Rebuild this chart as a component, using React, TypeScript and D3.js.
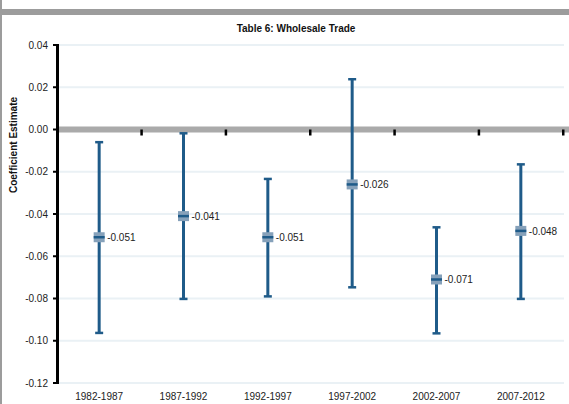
import React from "react";
import * as d3 from "d3";

// Period categories and coefficient estimates with their confidence bounds
const periods = ["1982-1987", "1987-1992", "1992-1997", "1997-2002", "2002-2007", "2007-2012"];
const estimates = [-0.051, -0.041, -0.051, -0.026, -0.071, -0.048];
const upperBounds = [-0.006, -0.0018, -0.0234, 0.0238, -0.0463, -0.0165];
const lowerBounds = [-0.0963, -0.0802, -0.079, -0.0747, -0.0965, -0.0802];
const yTicks = [0.04, 0.02, 0.0, -0.02, -0.04, -0.06, -0.08, -0.1, -0.12];

const W = 569;
const H = 404;
const FONT = "'Liberation Sans', Arial, sans-serif";
const BAR = "#1f5b89";

const fmt2 = (v: number) => d3.format(".2f")(v).replace("\u2212", "-");
const fmt3 = (v: number) => d3.format(".3f")(v).replace("\u2212", "-");

export default function App() {
  const y = d3.scaleLinear().domain([-0.12, 0.04]).range([383, 45]);
  const x = d3.scaleBand<string>().domain(periods).range([57, 563]);
  const axisX = 57.5;
  const y0 = y(0);

  return (
    <svg
      width={W}
      height={H}
      style={{ position: "absolute", left: 0, top: 0, background: "#fff" }}
      fontFamily={FONT}
    >
      {/* frame strips */}
      <rect x={0} y={9} width={W} height={6} fill="#9c9c9c" />
      <rect x={0} y={0} width={2} height={H} fill="#9c9c9c" />

      {/* title */}
      <text x={296} y={31.5} fontSize={10} fontWeight="bold" textAnchor="middle" fill="#111">
        Table 6: Wholesale Trade
      </text>

      {/* axis title */}
      <text
        transform={`translate(17,145) rotate(-90)`}
        fontSize={10}
        fontWeight="bold"
        textAnchor="middle"
        fill="#111"
      >
        Coefficient Estimate
      </text>

      {/* gridlines */}
      {yTicks
        .filter((t) => t !== 0)
        .map((t) => (
          <line key={`g${t}`} x1={59} x2={564} y1={y(t)} y2={y(t)} stroke="#eaf1f5" strokeWidth={2} />
        ))}

      {/* zero line with category separators */}
      <line x1={58} x2={W} y1={y0} y2={y0} stroke="#aaaaaa" strokeWidth={6} />
      {periods.map((p) => {
        const bx = (x(p) ?? 0) + x.bandwidth();
        return <rect key={`s${p}`} x={bx - 1} y={y0} width={2.5} height={6} fill="#000" />;
      })}

      {/* y axis */}
      <line x1={axisX} x2={axisX} y1={44} y2={384} stroke="#000" strokeWidth={3} />
      {yTicks.map((t) => (
        <g key={`t${t}`}>
          <line x1={53} x2={57} y1={y(t)} y2={y(t)} stroke="#000" strokeWidth={2} />
          <text x={48} y={y(t) + 3.6} fontSize={10} textAnchor="end" fill="#222">
            {fmt2(t)}
          </text>
        </g>
      ))}

      {/* x labels */}
      {periods.map((p) => (
        <text
          key={`x${p}`}
          x={(x(p) ?? 0) + x.bandwidth() / 2}
          y={399.5}
          fontSize={10}
          textAnchor="middle"
          fill="#222"
        >
          {p}
        </text>
      ))}

      {/* error bars with point estimates */}
      {periods.map((p, i) => {
        const cx = (x(p) ?? 0) + x.bandwidth() / 2;
        const ty = y(upperBounds[i]);
        const by = y(lowerBounds[i]);
        const my = y(estimates[i]);
        return (
          <g key={`b${p}`}>
            <line x1={cx} x2={cx} y1={ty} y2={by} stroke={BAR} strokeWidth={3} />
            <line x1={cx - 4} x2={cx + 4} y1={ty} y2={ty} stroke={BAR} strokeWidth={2.5} />
            <line x1={cx - 4} x2={cx + 4} y1={by} y2={by} stroke={BAR} strokeWidth={2.5} />
            <rect x={cx - 5.5} y={my - 5} width={11} height={10} fill="#86a1ba" />
            <line x1={cx - 5.5} x2={cx + 5.5} y1={my} y2={my} stroke={BAR} strokeWidth={2.5} />
            <text x={cx + 8} y={my + 3.6} fontSize={10} fill="#222">
              {fmt3(estimates[i])}
            </text>
          </g>
        );
      })}
    </svg>
  );
}
